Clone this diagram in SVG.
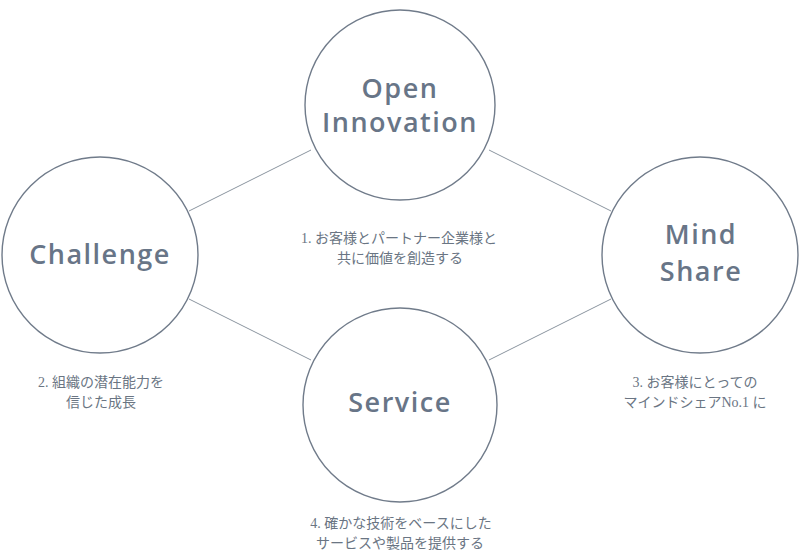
<svg xmlns="http://www.w3.org/2000/svg" width="800" height="560" viewBox="0 0 800 560">
<style>
.node circle{fill:#fff;stroke:#707b8a;stroke-width:1.4}
.title{font-family:"Open Sans","Noto Sans",sans-serif;font-weight:600;font-size:27px;fill:#687587;letter-spacing:1.5px;text-anchor:middle}
.desc{font-family:"Liberation Serif","Noto Sans CJK JP",serif;font-size:14px;fill:#6a7583;text-anchor:middle}
.conn line{stroke:#8a949f;stroke-width:1}
</style>
<rect width="800" height="560" fill="#fff"/>
<g id="connectors" class="conn">
<line x1="189" y1="211" x2="311" y2="150"/>
<line x1="489" y1="150" x2="611" y2="211"/>
<line x1="189" y1="299" x2="311" y2="360"/>
<line x1="489" y1="360" x2="611" y2="299"/>
</g>
<g id="open-innovation" class="node">
<circle cx="400" cy="105" r="95"/>
<text class="title" x="400" y="98">Open</text>
<text class="title" x="400" y="132">Innovation</text>
</g>
<g id="challenge" class="node">
<circle cx="100" cy="255" r="98"/>
<text class="title" x="100" y="264">Challenge</text>
</g>
<g id="mind-share" class="node">
<circle cx="700" cy="255" r="98"/>
<text class="title" x="701" y="244">Mind</text>
<text class="title" x="701" y="281">Share</text>
</g>
<g id="service" class="node">
<circle cx="400" cy="405" r="97"/>
<text class="title" x="400" y="412">Service</text>
</g>
<g id="desc1">
<text class="desc" x="399" y="243">1. お客様とパートナー企業様と</text>
<text class="desc" x="400" y="263">共に価値を創造する</text>
</g>
<g id="desc2">
<text class="desc" x="101" y="387">2. 組織の潜在能力を</text>
<text class="desc" x="101" y="407">信じた成長</text>
</g>
<g id="desc3">
<text class="desc" x="695" y="387">3. お客様にとっての</text>
<text class="desc" x="695" y="407">マインドシェアNo.1 に</text>
</g>
<g id="desc4">
<text class="desc" x="401" y="528">4. 確かな技術をベースにした</text>
<text class="desc" x="400" y="548">サービスや製品を提供する</text>
</g>
</svg>
